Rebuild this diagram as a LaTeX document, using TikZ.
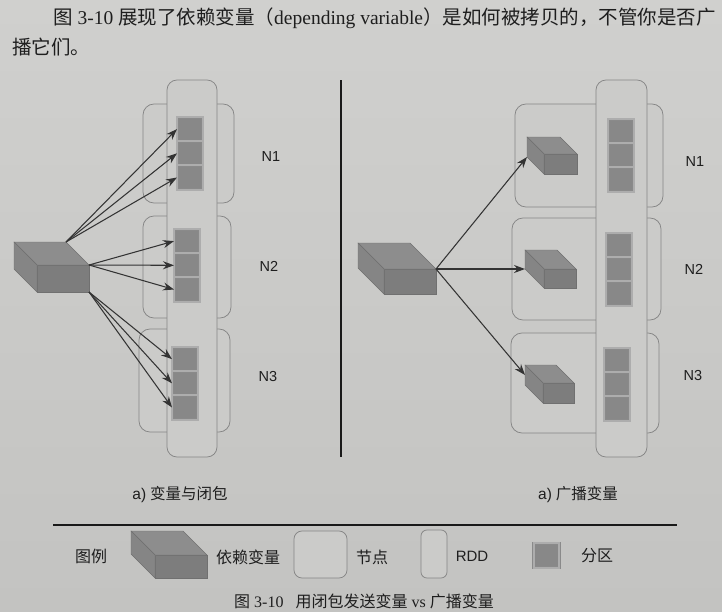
\documentclass[tikz,border=0pt]{standalone}
\usepackage{fontspec}
\setmainfont{Liberation Serif}
\newfontfamily\cjk{Noto Sans CJK SC}
\newfontfamily\figsans{Liberation Sans}
\usetikzlibrary{arrows.meta}

\definecolor{paperlight}{HTML}{D0D0CE}
\definecolor{paperdark}{HTML}{C3C3C1}
\definecolor{boxfill}{HTML}{CBCBC9}
\definecolor{boxedge}{HTML}{858585}
\definecolor{partdark}{HTML}{888888}
\definecolor{partlight}{HTML}{ADADAD}
\definecolor{partedge}{HTML}{8A8A8A}
\definecolor{cubetop}{HTML}{8D8D8D}
\definecolor{cubeside}{HTML}{858585}
\definecolor{cubefront}{HTML}{7D7D7D}
\definecolor{cubeedge}{HTML}{707070}
\definecolor{ink}{HTML}{1E1E1E}
\definecolor{arrowink}{HTML}{333333}

\tikzset{
  hostbox/.style={draw=boxedge, line width=0.75pt, fill=boxfill,
    rounded corners=11pt, inner sep=0pt, outer sep=0pt},
  rddbox/.style={draw=boxedge, line width=0.75pt, fill=boxfill,
    rounded corners=10pt, inner sep=0pt, outer sep=0pt},
  partcell/.style={draw=partedge, line width=0.5pt, double=partlight,
    double distance=2pt, fill=partdark, minimum width=25.5pt,
    minimum height=24.2pt, inner sep=0pt, outer sep=0pt, anchor=north west},
  cubefrontface/.style={draw=cubeedge, line width=0.4pt, fill=cubefront,
    inner sep=0pt, outer sep=0pt},
  cubetopface/.style={draw=cubeedge, line width=0.4pt, fill=cubetop},
  cubesideface/.style={draw=cubeedge, line width=0.4pt, fill=cubeside},
  flow/.style={draw=arrowink, line width=1.05pt,
    -{Stealth[length=11pt, width=8pt]}},
  nlabel/.style={font=\figsans\fontsize{14.5}{17}\selectfont, text=ink,
    inner sep=0pt},
  sublabel/.style={font=\fontsize{15.5}{18}\selectfont, text=ink, inner sep=0pt},
  legendtext/.style={font=\cjk\fontsize{16}{19}\selectfont, text=ink, inner sep=0pt},
  rule/.style={draw=black!90, line cap=butt},
}

% A solid block: front face is a node, top and left faces recede by #6.
% #1 name, #2,#3 front top-left corner, #4 width, #5 height, #6 depth
\newcommand\depcube[6]{%
  \node[cubefrontface, minimum width=#4pt, minimum height=#5pt,
    anchor=north west] (#1) at (#2,#3) {};
  \filldraw[cubetopface] (#1.north west) -- ++(-#6,-#6) -- ++(#4,0)
    -- (#1.north east) -- cycle;
  \filldraw[cubesideface] (#1.north west) -- ++(-#6,-#6) -- ++(0,#5)
    -- (#1.south west) -- cycle;
  \coordinate (#1-back) at ([shift={(-#6,-#6)}]#1.north east);
  \coordinate (#1-bl) at ([shift={(-#6,-#6)}]#1.south west);
  \coordinate (#1-lm) at ([shift={(-#6,-#6)}]#1.west);
}

% Three stacked partitions of an RDD, top-left corner at (#2,#3)
\newcommand\partcol[3]{%
  \node[partcell] (#1a) at (#2,#3) {};
  \node[partcell, anchor=north] (#1b) at (#1a.south) {};
  \node[partcell, anchor=north] (#1c) at (#1b.south) {};
}

\begin{document}
\begin{tikzpicture}[x=1pt, y=-1pt]
  % page
  \fill[top color=paperlight, bottom color=paperdark] (0,0) rectangle (722,611);
  \useasboundingbox (0,0) rectangle (722,611);

  % running text above the figure
  \node[anchor=west, inner sep=0pt, text=ink, font=\fontsize{19.5}{23}\selectfont]
    (intro1) at (53,18)
    {{\cjk 图}~3-10 {\cjk 展现了依赖变量（}depending variable{\cjk ）是如何被拷贝的，不管你是否广}};
  \node[anchor=west, inner sep=0pt, text=ink, font=\fontsize{19.5}{23}\selectfont]
    (intro2) at (12,47) {{\cjk 播它们。}};

  % ---------- left: closures ----------
  \node[hostbox, minimum width=91pt, minimum height=99pt]  (hL1) at (188.5,153.5) {};
  \node[hostbox, minimum width=88pt, minimum height=102pt] (hL2) at (187,267) {};
  \node[hostbox, minimum width=91pt, minimum height=103pt] (hL3) at (184.5,380.5) {};
  \node[rddbox, minimum width=50pt, minimum height=377pt]  (rddL) at (192,268.5) {};

  \partcol{pL1}{177}{117}
  \partcol{pL2}{174}{229}
  \partcol{pL3}{172}{347}

  \node[nlabel] (nL1) at (271,157) {N1};
  \node[nlabel] (nL2) at (269,266) {N2};
  \node[nlabel] (nL3) at (268,376) {N3};

  \depcube{cubeL}{37}{265}{52}{27}{23}

  \draw[flow] (cubeL-back) -- (pL1a.west);
  \draw[flow] (cubeL-back) -- (pL1b.west);
  \draw[flow] (cubeL-back) -- (pL1c.west);
  \draw[flow] (cubeL.north east) -- (pL2a.west);
  \draw[flow] (cubeL.north east) -- (pL2b.west);
  \draw[flow] (cubeL.north east) -- (pL2c.west);
  \draw[flow] (cubeL.south east) -- (pL3a.west);
  \draw[flow] (cubeL.south east) -- (pL3b.west);
  \draw[flow] (cubeL.south east) -- (pL3c.west);

  % divider
  \coordinate (divtop) at (341,80);
  \coordinate (divbot) at (341,457);
  \draw[rule, line width=1.8pt] (divtop) -- (divbot);

  % ---------- right: broadcast ----------
  \node[hostbox, minimum width=148pt, minimum height=103pt] (hR1) at (589,155.5) {};
  \node[hostbox, minimum width=149pt, minimum height=102pt] (hR2) at (586.5,269) {};
  \node[hostbox, minimum width=148pt, minimum height=100pt] (hR3) at (585,383) {};
  \node[rddbox, minimum width=51pt, minimum height=377pt]   (rddR) at (621.5,268.5) {};

  \partcol{pR1}{608}{119}
  \partcol{pR2}{606}{233}
  \partcol{pR3}{604}{348}

  \node[nlabel] (nR1) at (695,162) {N1};
  \node[nlabel] (nR2) at (694,269) {N2};
  \node[nlabel] (nR3) at (693,375) {N3};

  \depcube{cubeR}{384}{269}{52}{25}{26}
  \depcube{cubeS1}{544}{154}{33}{20}{17}
  \depcube{cubeS2}{544}{269}{32}{19}{19}
  \depcube{cubeS3}{543}{383}{31}{20}{18}

  \draw[flow] (cubeR.north east) -- (cubeS1-bl);
  \draw[flow] (cubeR.north east) -- (cubeS2-bl);
  \draw[flow] (cubeR.north east) -- (cubeS3-lm);

  % sub-captions
  \node[sublabel] (capL) at (180,495) {{\figsans a)} {\cjk 变量与闭包}};
  \node[sublabel] (capR) at (578,495) {{\figsans a)} {\cjk 广播变量}};

  % legend
  \coordinate (rulel) at (53,525);
  \coordinate (ruler) at (677,525);
  \draw[rule, line width=2.3pt] (rulel) -- (ruler);

  \node[legendtext] (lgTitle) at (91,556) {图例};
  \depcube{lgCube}{155}{555}{52}{23}{24}
  \node[legendtext] (lgCubeText) at (248,557) {依赖变量};
  \node[hostbox, rounded corners=8pt, minimum width=53pt, minimum height=47pt]
    (lgHost) at (320.5,554.5) {};
  \node[legendtext] (lgHostText) at (372,557) {节点};
  \node[rddbox, rounded corners=6pt, minimum width=26pt, minimum height=48pt]
    (lgRdd) at (434,554) {};
  \node[nlabel, font=\figsans\fontsize{15}{18}\selectfont] (lgRddText) at (472,556) {RDD};
  \node[partcell, anchor=center] (lgPart) at (546.5,555.5) {};
  \node[legendtext] (lgPartText) at (597,556) {分区};

  % figure caption
  \node[inner sep=0pt, text=ink, font=\fontsize{16}{19}\selectfont] (figcap) at (364,601)
    {{\cjk 图}~3-10\hspace{12pt}{\cjk 用闭包发送变量}~vs~{\cjk 广播变量}};
\end{tikzpicture}
\end{document}
